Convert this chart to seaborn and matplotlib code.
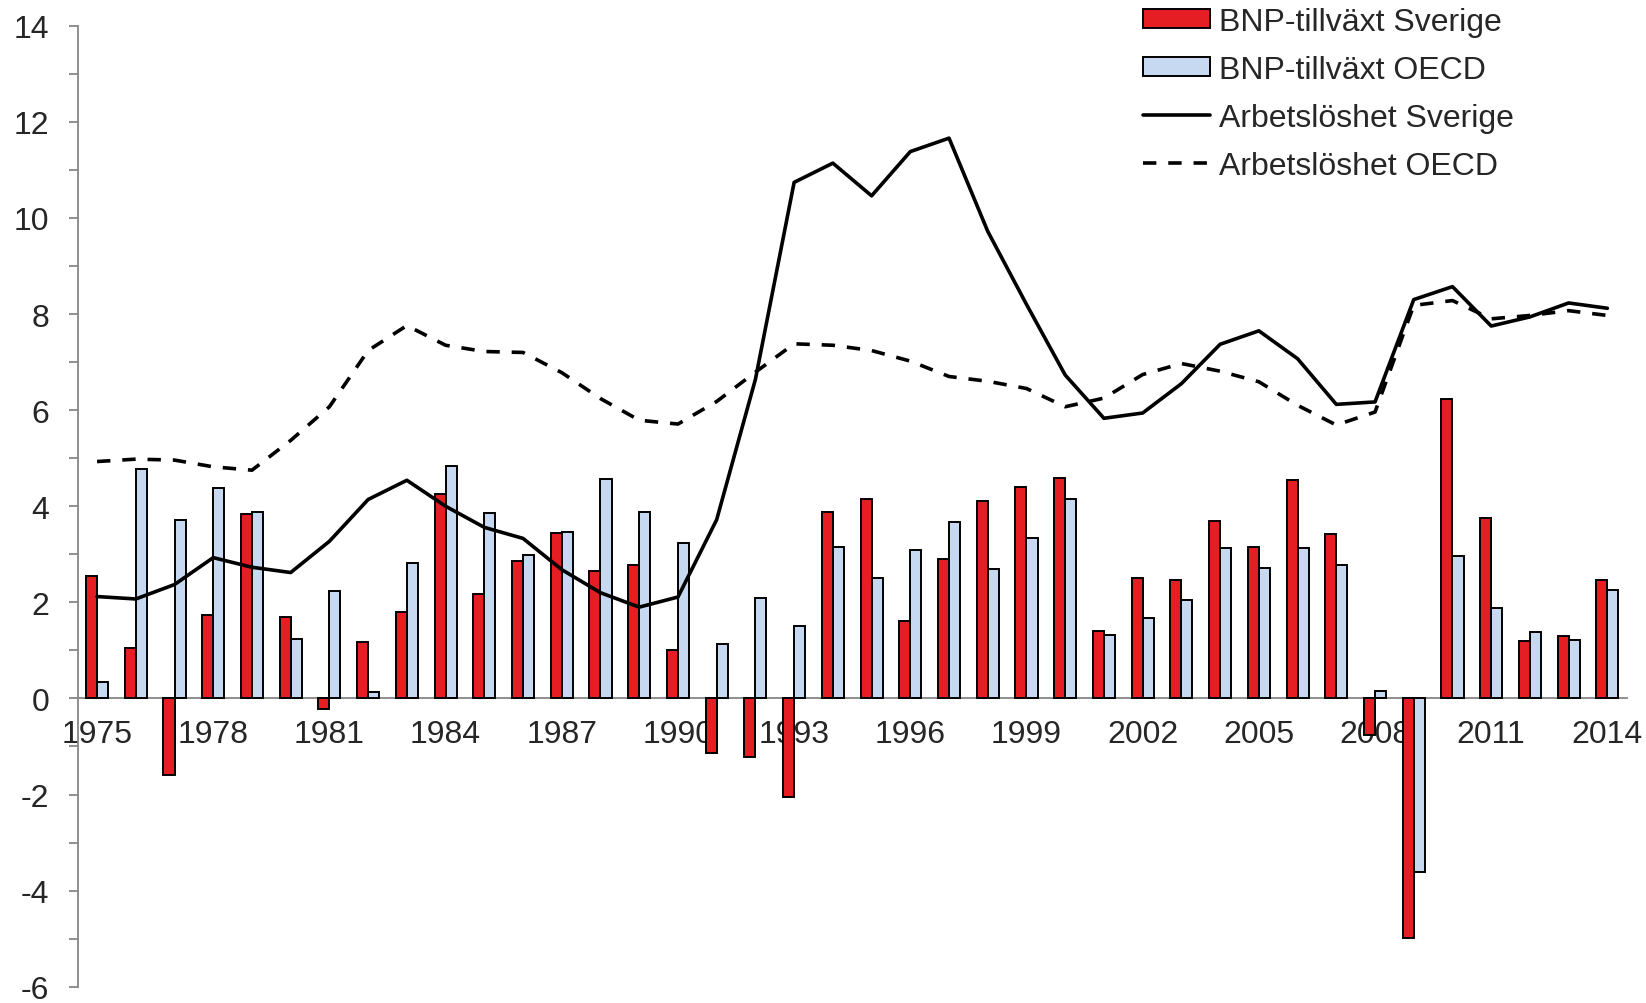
import numpy as np
import pandas as pd
import matplotlib
matplotlib.use("Agg")
import matplotlib.pyplot as plt
import seaborn as sns
from matplotlib.ticker import MultipleLocator, FixedLocator
from matplotlib.patches import Patch
from matplotlib.lines import Line2D

# -----------------------------
# Data
# -----------------------------
years = list(range(1975, 2015))

bnp_sverige = [2.54, 1.05, -1.60, 1.74, 3.83, 1.69, -0.22, 1.18, 1.80, 4.26,
               2.18, 2.86, 3.44, 2.66, 2.77, 1.00, -1.13, -1.21, -2.05, 3.87,
               4.14, 1.62, 2.90, 4.10, 4.40, 4.59, 1.41, 2.50, 2.47, 3.70,
               3.15, 4.54, 3.43, -0.77, -4.99, 6.24, 3.76, 1.19, 1.29, 2.47]
bnp_oecd = [0.35, 4.78, 3.72, 4.38, 3.88, 1.23, 2.24, 0.13, 2.82, 4.83,
            3.86, 2.99, 3.46, 4.56, 3.88, 3.24, 1.13, 2.10, 1.50, 3.15,
            2.50, 3.09, 3.68, 2.69, 3.33, 4.15, 1.32, 1.68, 2.05, 3.13,
            2.72, 3.14, 2.78, 0.16, -3.62, 2.96, 1.89, 1.38, 1.21, 2.25]
arb_sverige = [2.12, 2.07, 2.37, 2.93, 2.73, 2.62, 3.27, 4.14, 4.54, 4.00,
               3.56, 3.33, 2.68, 2.20, 1.90, 2.11, 3.72, 6.64, 10.74, 11.14,
               10.46, 11.38, 11.66, 9.72, 8.20, 6.73, 5.83, 5.94, 6.55, 7.37,
               7.65, 7.07, 6.12, 6.17, 8.30, 8.57, 7.75, 7.94, 8.23, 8.12]
arb_oecd = [4.93, 4.98, 4.96, 4.82, 4.75, 5.37, 6.07, 7.24, 7.76, 7.35,
            7.22, 7.20, 6.78, 6.24, 5.79, 5.71, 6.18, 6.79, 7.38, 7.35,
            7.24, 7.02, 6.70, 6.60, 6.45, 6.07, 6.25, 6.74, 6.97, 6.81,
            6.59, 6.10, 5.69, 5.96, 8.18, 8.28, 7.90, 7.97, 8.07, 7.97]

serie_names = ["BNP-tillväxt Sverige", "BNP-tillväxt OECD",
               "Arbetslöshet Sverige", "Arbetslöshet OECD"]

# -----------------------------
# Style
# -----------------------------
sns.set_style("white")
plt.rcParams["font.family"] = ["Liberation Sans", "DejaVu Sans"]
plt.rcParams["axes.unicode_minus"] = False

rojo = "#E41E22"
azul = "#C6D9F0"
gris = "#868686"
fs = 23
lw_linea = 2.6
guiones = (0, (3.7, 3.3))

df = pd.DataFrame({"year": years, serie_names[0]: bnp_sverige,
                   serie_names[1]: bnp_oecd})
bars = df.melt(id_vars="year", var_name="serie", value_name="value")
pos = np.arange(len(years))

fig = plt.figure(figsize=(16.46, 10.04), dpi=100)
ax = fig.add_axes([0.0472, 0.0162, 0.9411, 0.9572])

sns.barplot(data=bars, x="year", y="value", hue="serie",
            palette=[rojo, azul], saturation=1, width=0.57,
            edgecolor="black", linewidth=1.4, legend=False, zorder=3, ax=ax)

sns.lineplot(x=pos, y=arb_sverige, color="black", lw=lw_linea, zorder=4, ax=ax)
sns.lineplot(x=pos, y=arb_oecd, color="black", lw=lw_linea,
             linestyle=guiones, zorder=4, ax=ax)

# -----------------------------
# Axes
# -----------------------------
ax.set_xlim(-0.5, len(years) - 0.5)
ax.set_ylim(-6, 14)
ax.set_xlabel("")
ax.set_ylabel("")

for s in ["top", "right"]:
    ax.spines[s].set_visible(False)
ax.spines["bottom"].set_position(("data", 0))
for s in ["left", "bottom"]:
    ax.spines[s].set_color(gris)
    ax.spines[s].set_linewidth(1.3)
ax.spines["bottom"].set_zorder(2)

ax.xaxis.set_major_locator(FixedLocator(pos[::3]))
ax.set_xticklabels([str(y) for y in years[::3]])
ax.xaxis.set_minor_locator(FixedLocator(np.arange(-0.5, len(years), 1.0)))
ax.tick_params(axis="x", which="major", length=0, pad=15, labelsize=fs)
ax.tick_params(axis="x", which="minor", length=6.8, width=1.3,
               color=gris, direction="out")

ax.yaxis.set_major_locator(MultipleLocator(2))
ax.yaxis.set_minor_locator(MultipleLocator(1))
ax.tick_params(axis="y", which="both", length=6.8, width=1.3, color=gris,
               direction="out", left=True, pad=13.5, labelsize=fs)

for lbl in ax.get_xticklabels():
    lbl.set_zorder(1)

# -----------------------------
# Legend
# -----------------------------
handles = [Patch(facecolor=rojo, edgecolor="black", lw=1.4),
           Patch(facecolor=azul, edgecolor="black", lw=1.4),
           Line2D([], [], color="black", lw=lw_linea),
           Line2D([], [], color="black", lw=lw_linea, linestyle=guiones)]
fig.legend(handles, serie_names, loc="upper left",
           bbox_to_anchor=(0.6942, 0.992), frameon=False, fontsize=fs,
           handlelength=2.1, handleheight=0.53, handletextpad=0.29,
           labelspacing=0.56, borderpad=0, borderaxespad=0)

fig.savefig("out.png", dpi=100)
